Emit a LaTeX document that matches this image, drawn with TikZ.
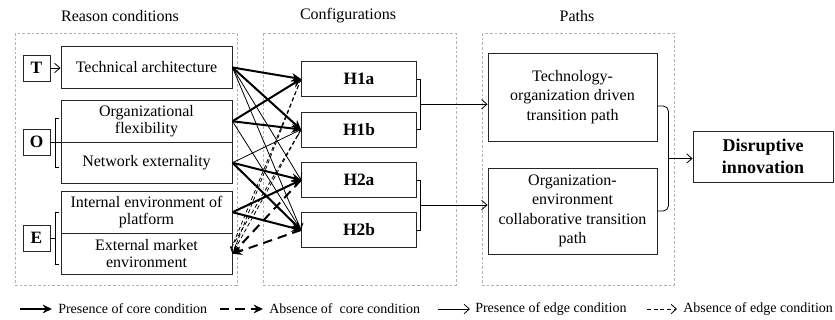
\documentclass[tikz,border=0pt]{standalone}
\usepackage{fontspec}
\setmainfont{Liberation Serif}
\usetikzlibrary{arrows.meta,calc}

\begin{document}
\begin{tikzpicture}[x=0.75pt,y=-0.75pt,font=\fontsize{12}{13}\selectfont,
  condbox/.style={draw=black!85,line width=0.7pt,align=center,inner sep=1pt,minimum width=128.25pt,minimum height=31.1pt},
  letterbox/.style={draw=black!85,line width=0.7pt,font=\fontsize{13}{13}\selectfont\bfseries,minimum width=20.25pt,minimum height=19.5pt,inner sep=0pt},
  configbox/.style={draw=black!85,line width=0.7pt,font=\fontsize{13}{13}\selectfont\bfseries,minimum width=86.25pt,minimum height=26.25pt},
  pathbox/.style={draw=black!85,line width=0.7pt,align=center,font=\fontsize{12}{14.5}\selectfont,minimum width=126.75pt},
  group/.style={draw=black!30,line width=0.5pt,dash pattern=on 2pt off 1.5pt},
  corecond/.style={line width=1.5pt,-{Stealth[length=7pt,width=6.5pt]}},
  coreabsent/.style={corecond,dash pattern=on 7pt off 4.5pt},
  edgecond/.style={line width=0.6pt,-{Straight Barb[length=4pt,width=7pt]}},
  edgeabsent/.style={edgecond,dash pattern=on 3pt off 2pt},
  legtext/.style={anchor=west,inner sep=0pt,font=\fontsize{10.5}{12}\selectfont}]
  \useasboundingbox (0,0) rectangle (835,320);
  % groups
  \draw[group] (15,33) rectangle (237,285);
  \draw[group] (263,33) rectangle (456,285);
  \draw[group] (482,33) rectangle (674,285);
  \node (hReason) at (120,16) {Reason conditions};
  \node (hConfig) at (348,16) {Configurations};
  \node (hPaths) at (577,16) {Paths};
  % reason conditions
  \node[letterbox] (T) at (36.5,68) {T};
  \node[letterbox] (O) at (36.5,142) {O};
  \node[letterbox] (E) at (36.5,238) {E};
  \node[condbox] (TA) at (146.5,67.5) {Technical architecture};
  \node[condbox] (OF) at (146.5,121.25) {Organizational\\flexibility};
  \node[condbox] (NE) at (146.5,162.75) {Network externality};
  \node[condbox] (IE) at (146.5,212.25) {Internal environment of\\platform};
  \node[condbox] (EM) at (146.5,253.75) {External market\\environment};
  \draw[edgecond] (T.east) -- (T.east -| TA.west);
  \draw[line width=0.6pt] (59,118) -- (55,118) -- (55,167) -- (59,167);
  \draw[line width=0.6pt] (O.east) -- (O.east -| OF.west);
  \draw[line width=0.6pt] (59,212) -- (55,212) -- (55,264) -- (59,264);
  \draw[line width=0.6pt] (E.east) -- ++(6,0);
  % configurations
  \node[configbox] (H1a) at (359,79) {H1a};
  \node[configbox] (H1b) at (359,129.5) {H1b};
  \node[configbox] (H2a) at (359,180) {H2a};
  \node[configbox] (H2b) at (359,230) {H2b};
  \foreach \a/\b in {TA/H1a,TA/H1b,OF/H1a,OF/H1b,NE/H2a,NE/H2b,IE/H2a,IE/H2b}
    \draw[corecond] (\a.east) -- (\b.west);
  \foreach \a/\b in {TA/H2a,TA/H2b,OF/H2b,NE/H1b}
    \draw[edgecond] (\a.east) -- (\b.west);
  \coordinate (em2) at ($(EM.east)+(0,-8)$);
  \foreach \b in {H1a,H1b}
  {
    \draw[edgeabsent] (\b.west) -- (EM.east);
    \draw[edgeabsent,-] (\b.west) -- (em2);
  }
  \foreach \b in {H2a,H2b}
    \draw[coreabsent] (\b.west) -- (EM.east);
  % paths
  \node[pathbox,minimum height=66pt] (TOD) at (572.5,97) {Technology-\\organization driven\\transition path};
  \node[pathbox,minimum height=64.5pt] (OEC) at (572.5,211) {Organization-\\environment\\collaborative transition\\path};
  \draw[line width=0.6pt] (H1a.east) -- ++(3.5,0) |- (H1b.east);
  \draw[line width=0.6pt] (H2a.east) -- ++(3.5,0) |- (H2b.east);
  \coordinate (b1) at ($(H1a.east)!0.5!(H1b.east)+(3.5,0)$);
  \coordinate (b2) at ($(H2a.east)!0.5!(H2b.east)+(3.5,0)$);
  \draw[edgecond] (b1) -- (b1 -| TOD.west);
  \draw[edgecond] (b2) -- (b2 -| OEC.west);
  % outcome
  \node[draw=black!85,line width=0.7pt,align=center,font=\fontsize{13.5}{16}\selectfont\bfseries,minimum width=105pt,minimum height=38.25pt] (DI) at (763,156.5) {Disruptive\\innovation};
  \coordinate (t1) at ($(TOD.east)+(0,9)$);
  \draw[line width=0.6pt,rounded corners=4pt] (t1) -- ++(11,0) |- (OEC.east);
  \coordinate (b3) at ($(t1)!0.5!(OEC.east)+(11,0)$);
  \draw[edgecond] (b3) -- (b3 -| DI.west);
  % legend
  \node[legtext] (L1) at (58,309) {Presence of core condition};
  \node[legtext] (L2) at (269,309) {Absence of\ \ core condition};
  \node[legtext] (L3) at (475,309) {Presence of edge condition};
  \node[legtext] (L4) at (683,309) {Absence of edge condition};
  \draw[corecond] ($(L1.west)+(-38,0)$) -- ($(L1.west)+(-6,0)$);
  \draw[coreabsent] ($(L2.west)+(-49,0)$) -- ($(L2.west)+(-6,0)$);
  \draw[edgecond] ($(L3.west)+(-37,0)$) -- ($(L3.west)+(-5,0)$);
  \draw[edgeabsent] ($(L4.west)+(-36,0)$) -- ($(L4.west)+(-6,0)$);
\end{tikzpicture}
\end{document}
